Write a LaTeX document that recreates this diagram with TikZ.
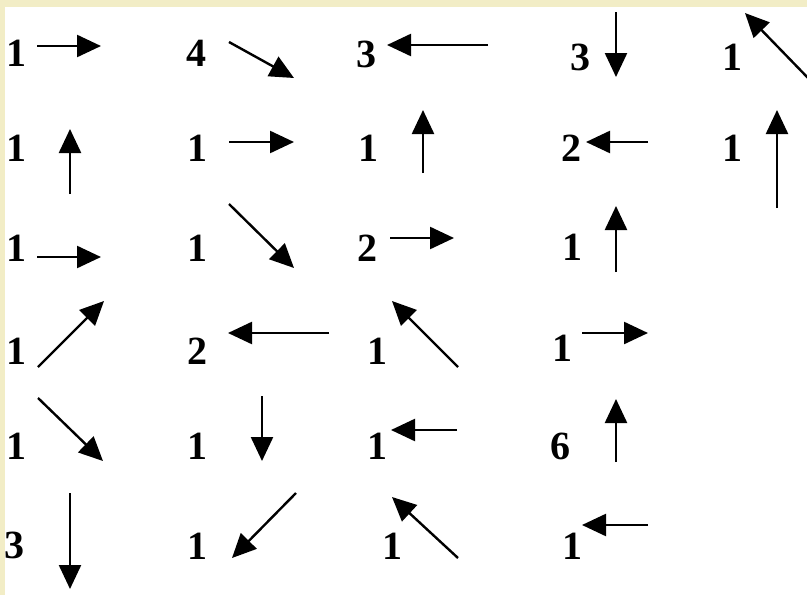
\documentclass[tikz,border=0pt]{standalone}
\usepackage{fontspec}
\setmainfont{Liberation Serif}
\usetikzlibrary{arrows.meta}
\definecolor{strip}{HTML}{F2EDC6}
\tikzset{
  num/.style={font=\fontsize{40}{40}\selectfont\bfseries, inner sep=0pt, anchor=center},
  arr/.style={line width=2.4pt, -{Triangle[length=24pt,width=22pt]}, shorten >=0pt}
}
\begin{document}
\begin{tikzpicture}[x=1pt,y=-1pt]
\useasboundingbox (0,0) rectangle (807,595);
\fill[strip] (0,0) rectangle (807,595);
\fill[white] (5,7) rectangle (807,595);
% row 1
\node[num] (a1) at (16,53) {1};
\coordinate (a1t) at (37,46); \coordinate (a1h) at (101,46);
\draw[arr] (a1t) -- (a1h);
\node[num] (a2) at (196,53) {4};
\coordinate (a2t) at (229,42); \coordinate (a2h) at (294,78);
\draw[arr] (a2t) -- (a2h);
\node[num] (a3) at (366,54) {3};
\coordinate (a3t) at (488,45); \coordinate (a3h) at (387,45);
\draw[arr] (a3t) -- (a3h);
\node[num] (a4) at (580,57) {3};
\coordinate (a4t) at (616,12); \coordinate (a4h) at (616,77);
\draw[arr] (a4t) -- (a4h);
\node[num] (a5) at (732,57) {1};
\coordinate (a5t) at (810,80); \coordinate (a5h) at (745,13);
\draw[arr] (a5t) -- (a5h);
% row 2
\node[num] (b1) at (16,148) {1};
\coordinate (b1t) at (70,194); \coordinate (b1h) at (70,129);
\draw[arr] (b1t) -- (b1h);
\node[num] (b2) at (197,148) {1};
\coordinate (b2t) at (229,142); \coordinate (b2h) at (294,142);
\draw[arr] (b2t) -- (b2h);
\node[num] (b3) at (368,148) {1};
\coordinate (b3t) at (423,173); \coordinate (b3h) at (423,110);
\draw[arr] (b3t) -- (b3h);
\node[num] (b4) at (571,148) {2};
\coordinate (b4t) at (648,142); \coordinate (b4h) at (586,142);
\draw[arr] (b4t) -- (b4h);
\node[num] (b5) at (732,148) {1};
\coordinate (b5t) at (777,208); \coordinate (b5h) at (777,110);
\draw[arr] (b5t) -- (b5h);
% row 3
\node[num] (c1) at (16,248) {1};
\coordinate (c1t) at (37,257); \coordinate (c1h) at (101,257);
\draw[arr] (c1t) -- (c1h);
\node[num] (c2) at (197,248) {1};
\coordinate (c2t) at (229,204); \coordinate (c2h) at (294,268);
\draw[arr] (c2t) -- (c2h);
\node[num] (c3) at (367,248) {2};
\coordinate (c3t) at (390,238); \coordinate (c3h) at (454,238);
\draw[arr] (c3t) -- (c3h);
\node[num] (c4) at (572,247) {1};
\coordinate (c4t) at (616,272); \coordinate (c4h) at (616,206);
\draw[arr] (c4t) -- (c4h);
% row 4
\node[num] (d1) at (16,351) {1};
\coordinate (d1t) at (38,367); \coordinate (d1h) at (104,301);
\draw[arr] (d1t) -- (d1h);
\node[num] (d2) at (197,351) {2};
\coordinate (d2t) at (329,333); \coordinate (d2h) at (228,333);
\draw[arr] (d2t) -- (d2h);
\node[num] (d3) at (377,351) {1};
\coordinate (d3t) at (458,367); \coordinate (d3h) at (392,301);
\draw[arr] (d3t) -- (d3h);
\node[num] (d4) at (562,348) {1};
\coordinate (d4t) at (582,333); \coordinate (d4h) at (648,333);
\draw[arr] (d4t) -- (d4h);
% row 5
\node[num] (e1) at (16,446) {1};
\coordinate (e1t) at (38,398); \coordinate (e1h) at (103,461);
\draw[arr] (e1t) -- (e1h);
\node[num] (e2) at (197,446) {1};
\coordinate (e2t) at (262,396); \coordinate (e2h) at (262,461);
\draw[arr] (e2t) -- (e2h);
\node[num] (e3) at (377,446) {1};
\coordinate (e3t) at (457,430); \coordinate (e3h) at (391,430);
\draw[arr] (e3t) -- (e3h);
\node[num] (e4) at (560,446) {6};
\coordinate (e4t) at (616,462); \coordinate (e4h) at (616,399);
\draw[arr] (e4t) -- (e4h);
% row 6
\node[num] (f1) at (15,545) {3};
\coordinate (f1t) at (70,493); \coordinate (f1h) at (70,589);
\draw[arr] (f1t) -- (f1h);
\node[num] (f2) at (197,546) {1};
\coordinate (f2t) at (296,493); \coordinate (f2h) at (232,558);
\draw[arr] (f2t) -- (f2h);
\node[num] (f3) at (392,546) {1};
\coordinate (f3t) at (458,558); \coordinate (f3h) at (392,497);
\draw[arr] (f3t) -- (f3h);
\node[num] (f4) at (572,546) {1};
\coordinate (f4t) at (648,525); \coordinate (f4h) at (582,525);
\draw[arr] (f4t) -- (f4h);
\end{tikzpicture}
\end{document}
